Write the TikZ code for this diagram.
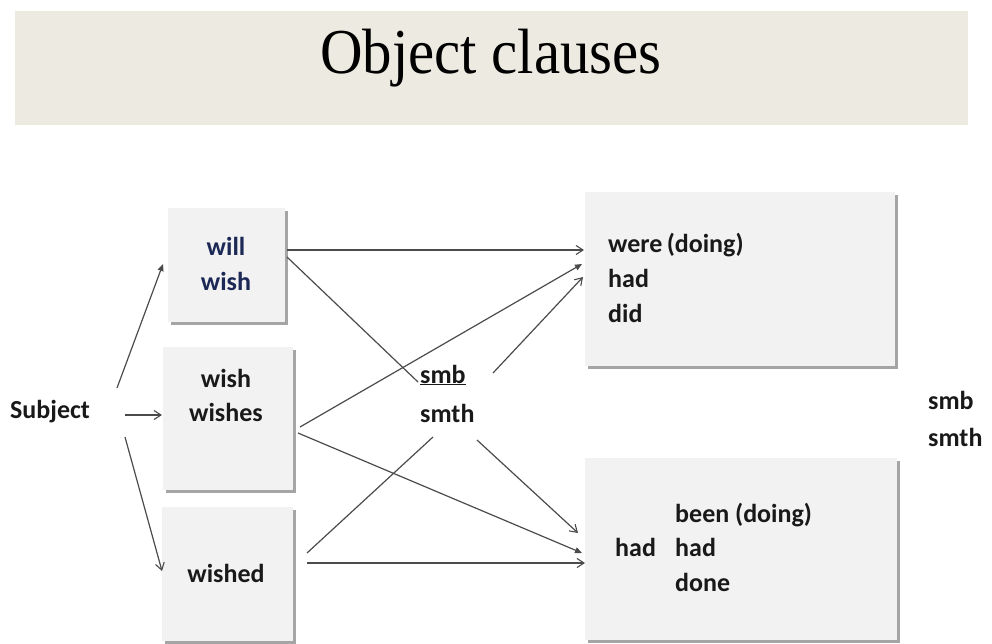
\documentclass[tikz,border=0pt]{standalone}
\usepackage{fontspec}
\setmainfont{Liberation Serif}
\newfontfamily\bodyfont{Carlito}
\usetikzlibrary{arrows.meta}
\definecolor{banner}{RGB}{237,235,225}
\definecolor{boxfill}{RGB}{242,242,242}
\definecolor{boxshade}{RGB}{165,165,165}
\definecolor{linecol}{RGB}{75,75,75}
\definecolor{navy}{RGB}{28,40,85}
\tikzset{
  boxshape/.style={draw=none, fill=boxfill, inner sep=0pt},
  lbl/.style={font=\bodyfont\bfseries\fontsize{26}{30}\selectfont, inner sep=0pt, text=black!90},
  conn/.style={draw=linecol, line width=1.2pt},
  openhead/.style={conn, -{Straight Barb[length=7pt,width=9pt,line width=1.1pt]}},
  fillhead/.style={conn, -{Triangle[length=7pt,width=6pt]}},
}
\newcommand{\shadedbox}[5]{%
  \fill[boxshade] (#2+3,#3+3) rectangle (#4+3,#5+3);
  \node[boxshape, minimum width=#4-#2, minimum height=#5-#3, anchor=north west] (#1) at (#2,#3) {};
}
\begin{document}
\begin{tikzpicture}[x=1pt,y=-1pt]
\useasboundingbox (0,0) rectangle (992,644);
% banner
\node[fill=banner, inner sep=0pt, minimum width=953, minimum height=114, anchor=north west] (banner) at (15,11) {};
\node[anchor=base, inner sep=0pt] (title) at (491,74) {\scalebox{0.92}[1]{\fontsize{64}{70}\selectfont Object clauses}};
% boxes
\shadedbox{b1}{168}{208}{285}{322}
\shadedbox{b2}{163}{347}{293}{490}
\shadedbox{b3}{162}{507}{293}{641}
\shadedbox{b4}{585}{192}{895}{366}
\shadedbox{b5}{585}{458}{897}{640}
% texts
\node[lbl, anchor=base west] (subj) at (10,418) {Subject};
\node[lbl, anchor=base, text=navy] (t1a) at (226,255) {will};
\node[lbl, anchor=base, text=navy] (t1b) at (226,290) {wish};
\node[lbl, anchor=base] (t2a) at (226,387) {wish};
\node[lbl, anchor=base] (t2b) at (226,421) {wishes};
\node[lbl, anchor=base] (t3) at (226,582) {wished};
\node[lbl, anchor=base west] (smb) at (420,383) {\underline{smb}};
\node[lbl, anchor=base west] (smth) at (420,422) {smth};
\node[lbl, anchor=base west] (t4a) at (608,252) {were\,(doing)};
\node[lbl, anchor=base west] (t4b) at (608,287) {had};
\node[lbl, anchor=base west] (t4c) at (608,322) {did};
\node[lbl, anchor=base west] (t5a) at (675,522) {been (doing)};
\node[lbl, anchor=base west] (t5h) at (615,556) {had};
\node[lbl, anchor=base west] (t5b) at (675,556) {had};
\node[lbl, anchor=base west] (t5c) at (675,591) {done};
\node[lbl, anchor=base west] (rsmb) at (928,409) {smb};
\node[lbl, anchor=base west] (rsmth) at (928,446) {smth};
% connector end points
\coordinate (s1) at (117,388); \coordinate (e1) at (163,264);
\coordinate (s2) at (125,415); \coordinate (e2) at (162,415);
\coordinate (s3) at (125,437); \coordinate (e3) at (162,571);
\coordinate (p1) at (287,250); \coordinate (q1) at (584,250);
\coordinate (p2) at (287,257); \coordinate (q2) at (418,382);
\coordinate (p3) at (300,427); \coordinate (q3) at (582,264);
\coordinate (p4) at (493,373); \coordinate (q4) at (583,277);
\coordinate (p5) at (298,433); \coordinate (q5) at (582,553);
\coordinate (p6) at (477,440); \coordinate (q6) at (578,533);
\coordinate (p7) at (307,553); \coordinate (q7) at (433,437);
\coordinate (p8) at (307,563); \coordinate (q8) at (585,563);
% connectors
\draw[fillhead] (s1) -- (e1);
\draw[openhead] (s2) -- (e2);
\draw[openhead] (s3) -- (e3);
\draw[openhead] (p1) -- (q1);
\draw[conn] (p2) -- (q2);
\draw[fillhead] (p3) -- (q3);
\draw[openhead] (p4) -- (q4);
\draw[fillhead] (p5) -- (q5);
\draw[openhead] (p6) -- (q6);
\draw[conn] (p7) -- (q7);
\draw[openhead] (p8) -- (q8);
\end{tikzpicture}
\end{document}
